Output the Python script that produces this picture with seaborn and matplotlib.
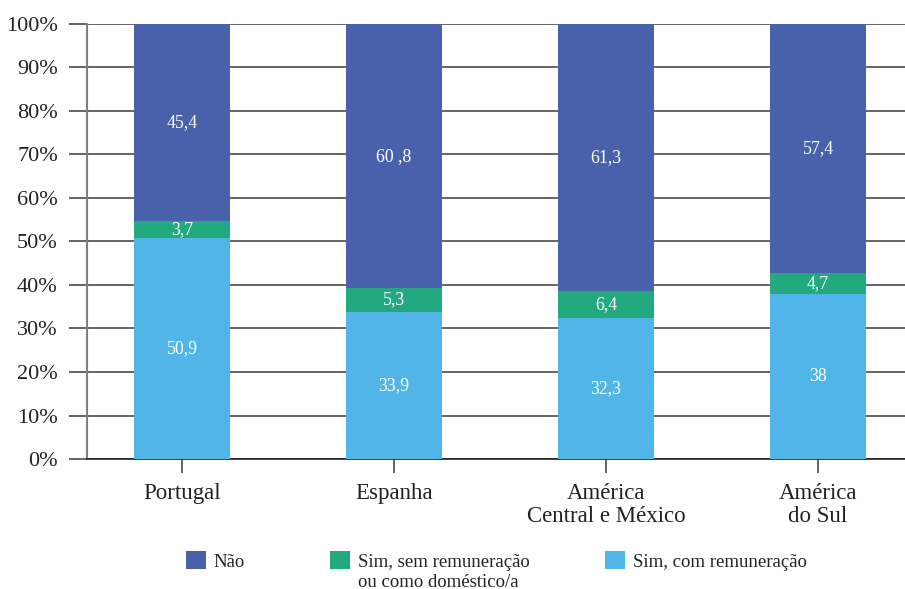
import matplotlib
matplotlib.use("Agg")
import matplotlib.pyplot as plt
import seaborn as sns
import pandas as pd
import numpy as np
from matplotlib.patches import Patch

regions = ["Portugal", "Espanha", "América\nCentral e México", "América\ndo Sul"]
com_remun = [50.9, 33.9, 32.3, 38.0]
sem_remun = [3.7, 5.3, 6.4, 4.7]
nao = [45.4, 60.8, 61.3, 57.4]
com_labels = ["50,9", "33,9", "32,3", "38"]
sem_labels = ["3,7", "5,3", "6,4", "4,7"]
nao_labels = ["45,4", "60 ,8", "61,3", "57,4"]
series_names = ["Não", "Sim, sem remuneração", "Sim, com remuneração"]
second_line = "ou como doméstico/a"
colors = ["#4960AA", "#23A980", "#51B6E7"]

sns.set_style("white")
plt.rcParams["font.family"] = ["Liberation Serif", "DejaVu Serif"]

df = pd.DataFrame({"regiao": regions, "com": com_remun, "sem": sem_remun, "nao": nao})
df["base_sem"] = df["com"]
df["base_nao"] = df["com"] + df["sem"]

fig = plt.figure(figsize=(9.05, 5.89), dpi=100)
ax = fig.add_axes([0.0961, 0.2207, 0.9039, 0.7386])

w = 0.453
sns.barplot(data=df, x="regiao", y="com", color=colors[2], width=w, saturation=1,
            linewidth=0, ax=ax, zorder=3)
sns.barplot(data=df, x="regiao", y="sem", bottom=df["base_sem"], color=colors[1], width=w,
            saturation=1, linewidth=0, ax=ax, zorder=3)
sns.barplot(data=df, x="regiao", y="nao", bottom=df["base_nao"], color=colors[0], width=w,
            saturation=1, linewidth=0, ax=ax, zorder=3)

for cont, labs in zip(ax.containers, [com_labels, sem_labels, nao_labels]):
    ax.bar_label(cont, labels=labs, label_type="center", color="white", fontsize=12.8)

ax.set_ylim(0, 100)
ax.set_xlim(-0.448, 3.41)
ax.set_yticks(np.arange(0, 101, 10))
ax.set_yticklabels([f"{v}%" for v in range(0, 101, 10)])
ax.set_xlabel("")
ax.set_ylabel("")
ax.yaxis.grid(True, color="#3a3a3a", linewidth=1.1, zorder=0)
ax.set_axisbelow(True)
ax.tick_params(axis="y", length=13, width=1.1, color="#3a3a3a", labelsize=16, pad=8, left=True)
ax.tick_params(axis="x", length=10, width=1.1, color="#3a3a3a", labelsize=16.5, pad=7, bottom=True)
for s in ["top", "right"]:
    ax.spines[s].set_visible(False)
ax.spines["left"].set_color("#808080")
ax.spines["left"].set_linewidth(1.5)
ax.spines["bottom"].set_color("#222222")
ax.spines["bottom"].set_linewidth(1.2)
for t in ax.get_xticklabels():
    t.set_linespacing(1.15)
    t.set_color("#222222")
for t in ax.get_yticklabels():
    t.set_color("#222222")

# legend: one small legend per entry so each sits where the original has it
blank = Patch(facecolor="none", edgecolor="none")
leg_kw = dict(loc="upper left", frameon=False, fontsize=13.5, handlelength=1.08,
              handleheight=1.08, handletextpad=0.4, labelspacing=0.05,
              borderpad=0, borderaxespad=0)
anchors = [(0.2055, 0.064), (0.3646, 0.064), (0.6685, 0.064)]
for i, (c, name) in enumerate(zip(colors, series_names)):
    hs = [Patch(facecolor=c, edgecolor="none")]
    ls = [name]
    if i == 1:
        hs.append(blank)
        ls.append(second_line)
    leg = fig.legend(hs, ls, bbox_to_anchor=anchors[i], **leg_kw)
    for t in leg.get_texts():
        t.set_color("#222222")

plt.savefig("out.png", dpi=100)
